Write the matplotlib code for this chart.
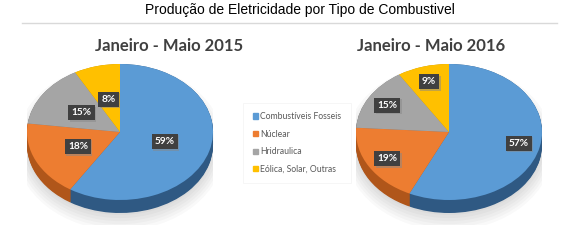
import numpy as np
import matplotlib.pyplot as plt
import matplotlib.transforms as mtransforms
from matplotlib.patches import Ellipse, Patch
from matplotlib.lines import Line2D

titulo = "Produção de Eletricidade por Tipo de Combustivel"
categorias = ["Combustíveis Fosseis", "Núclear", "Hridraulica", "Eólica, Solar, Outras"]
periodos = ["Janeiro - Maio 2015", "Janeiro - Maio 2016"]
valores_2015 = [59, 18, 15, 8]
valores_2016 = [57, 19, 15, 9]

cores = ["#5b9bd5", "#ed7d31", "#a5a5a5", "#ffc000"]
cores_lado = ["#2f5983", "#b0561a", "#7b7b7b", "#bf9000"]

W, H = 573, 242
fig = plt.figure(figsize=(W / 100, H / 100), dpi=100)


def px_axes(x0, y0, x1, y1):
    return fig.add_axes([x0 / W, 1 - y1 / H, (x1 - x0) / W, (y1 - y0) / H])


def pizza(x0, valores, r_rot):
    # caixa em pixels: x0..x0+186, y 55..225 (centro y=132, raio vertical 68)
    ax = px_axes(x0, 55, x0 + 186, 225)
    prof = 13 / 68
    # sombra suave
    for k in range(6):
        ax.add_patch(Ellipse((0.0, -prof - 0.03), 2.0 + 0.05 * k, 2.0 + 0.09 * k,
                             color="k", alpha=0.025, lw=0))
    n = 16
    for i in range(n + 1):
        ax.pie(valores, colors=cores_lado, startangle=90, counterclock=False,
               center=(0, -prof * (1 - i / n)))
    wedges, _ = ax.pie(valores, colors=cores, startangle=90, counterclock=False)
    sombra = mtransforms.offset_copy(ax.transData, fig=fig, x=1.5, y=-1.5, units="dots")
    for w, v in zip(wedges, valores):
        ang = np.radians((w.theta1 + w.theta2) / 2)
        x, y = r_rot * np.cos(ang), r_rot * np.sin(ang)
        ax.text(x, y, f"{v}%", transform=sombra, ha="center", va="center",
                fontsize=7.3, fontweight="bold", family="Lato", color="none",
                bbox=dict(boxstyle="square,pad=0.3", fc="#888888", ec="none", alpha=0.5))
        ax.text(x, y, f"{v}%", ha="center", va="center", fontsize=7.3,
                fontweight="bold", family="Lato", color="white",
                bbox=dict(boxstyle="square,pad=0.3", fc="#404040", ec="none"))
    ax.set_aspect("auto")
    ax.set_xlim(-1.0, 1.0)
    ax.set_ylim((132 - 225) / 68, (132 - 55) / 68)
    return wedges


w1 = pizza(27, valores_2015, 0.5)
w2 = pizza(356, valores_2016, 0.77)

fig.text(300 / W, 1 - 10 / H, titulo, ha="center", va="center", fontsize=10,
         family="Liberation Sans", color="#000000")
fig.add_artist(Line2D([22 / W, 557 / W], [1 - 23 / H, 1 - 23 / H], color="#d9d9d9", lw=1))
fig.text(169 / W, 1 - 46 / H, periodos[0], ha="center", va="center", fontsize=12,
         fontweight="bold", family="Lato", color="#404040")
fig.text(431 / W, 1 - 46 / H, periodos[1], ha="center", va="center", fontsize=12,
         fontweight="bold", family="Lato", color="#404040")

handles = [Patch(color=c) for c in cores]
leg = fig.legend(handles, categorias, loc="center", bbox_to_anchor=(297 / W, 1 - 143 / H),
                 prop={"family": "Lato", "size": 6.2}, labelcolor="#595959",
                 handlelength=0.55, handleheight=0.55, handletextpad=0.3,
                 labelspacing=1.0, fancybox=False, borderpad=1.1)
leg.get_frame().set_edgecolor("#f3f3f3")
leg.get_frame().set_linewidth(0.6)

fig.savefig("out.png", dpi=100)
